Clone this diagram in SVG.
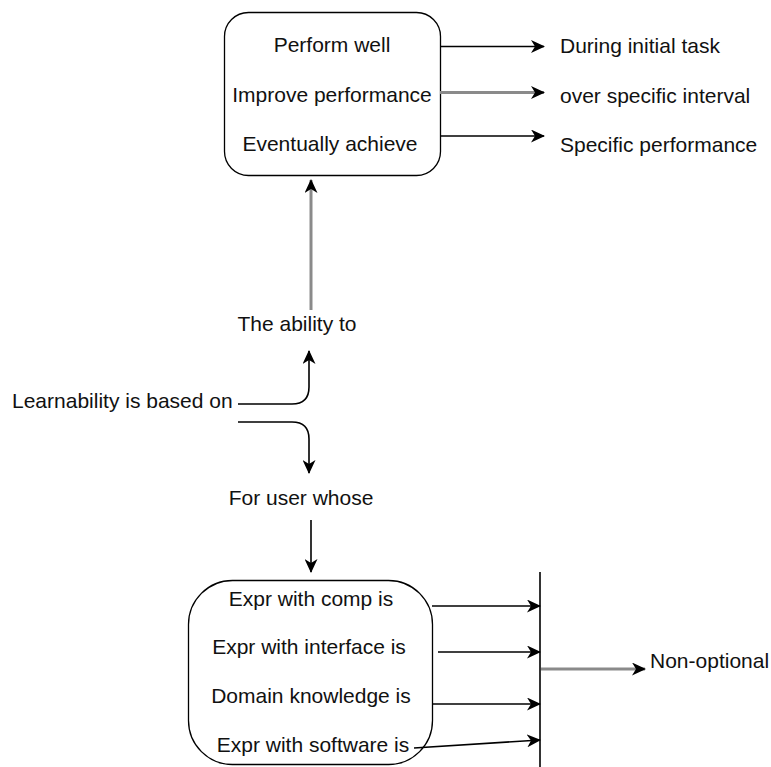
<svg xmlns="http://www.w3.org/2000/svg" width="771" height="767" viewBox="0 0 771 767">
  <defs>
    <marker id="arrow" viewBox="0 0 14 13" refX="13" refY="6.5" markerWidth="14" markerHeight="13" markerUnits="userSpaceOnUse" orient="auto">
      <path d="M0,0 L14,6.5 L0,13 L4,6.5 z" fill="#000"/>
    </marker>
  </defs>
  <style>
    text { font-family: "Liberation Sans", Arial, sans-serif; font-size: 21px; fill: #111; }
    .mid { text-anchor: middle; }
    .box { fill: #fff; stroke: #000; stroke-width: 1.3; }
    .edge { fill: none; stroke: #000; stroke-width: 1.6; marker-end: url(#arrow); }
    .soft { stroke: #8a8a8a; stroke-width: 3; }
    .bar { fill: none; stroke: #000; stroke-width: 1.6; }
  </style>
  <rect width="771" height="767" fill="#fff"/>

  <g id="ability-box">
    <rect class="box" x="224.5" y="12.5" width="216" height="163" rx="24" ry="24"/>
    <text class="mid" x="332" y="52">Perform well</text>
    <text class="mid" x="332" y="102">Improve performance</text>
    <text class="mid" x="330" y="151">Eventually achieve</text>
  </g>

  <g id="during-initial-task"><text x="560" y="53">During initial task</text></g>
  <g id="over-specific-interval"><text x="560" y="103">over specific interval</text></g>
  <g id="specific-performance"><text x="560" y="152">Specific performance</text></g>

  <g id="the-ability-to"><text class="mid" x="297" y="331">The ability to</text></g>
  <g id="learnability"><text x="12" y="408">Learnability is based on</text></g>
  <g id="for-user-whose"><text class="mid" x="301" y="505">For user whose</text></g>

  <g id="experience-box">
    <rect class="box" x="188.5" y="580.5" width="244" height="184" rx="44" ry="44"/>
    <text class="mid" x="311" y="606">Expr with comp is</text>
    <text class="mid" x="309" y="654">Expr with interface is</text>
    <text class="mid" x="311" y="703">Domain knowledge is</text>
    <text class="mid" x="313" y="752">Expr with software is</text>
  </g>

  <g id="junction-bar">
    <line class="bar" x1="540" y1="572" x2="540" y2="767"/>
  </g>

  <g id="non-optional"><text x="650" y="668">Non-optional</text></g>

  <g id="connectors">
    <line class="edge" x1="440" y1="46.5" x2="544" y2="46.5"/>
    <line class="edge soft" x1="440" y1="92.5" x2="544" y2="92.5"/>
    <line class="edge" x1="440" y1="136" x2="544" y2="136"/>

    <line class="edge soft" x1="311" y1="310" x2="311" y2="180"/>

    <path class="edge" d="M238,404 H292 Q309,404 309,387 V351"/>
    <path class="edge" d="M238,422 H292 Q309,422 309,439 V473"/>

    <line class="edge" x1="311" y1="520" x2="311" y2="572"/>

    <line class="edge" x1="432" y1="606" x2="540" y2="606"/>
    <line class="edge" x1="438" y1="652" x2="540" y2="652"/>
    <line class="edge" x1="432" y1="704" x2="540" y2="704"/>
    <line class="edge" x1="414" y1="748" x2="540" y2="740"/>

    <line class="edge soft" x1="541" y1="669" x2="645" y2="669"/>
  </g>
</svg>
